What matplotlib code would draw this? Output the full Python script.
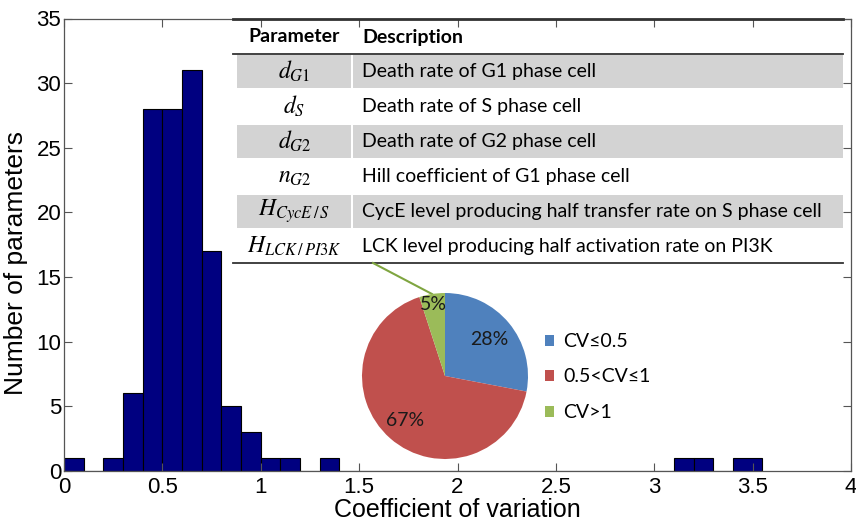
import numpy as np
import matplotlib.pyplot as plt
from matplotlib.patches import Rectangle

plt.rcParams['mathtext.fontset'] = 'stix'

# histogram of coefficient of variation (0.1 wide bins, last one wider)
bin_edges = np.round(np.append(np.arange(0, 3.45, 0.1), 3.55), 2)
counts = [1, 0, 1, 6, 28, 28, 31, 17, 5, 3, 1, 1, 0, 1,
          0, 0, 0, 0, 0, 0, 0, 0, 0, 0, 0, 0, 0, 0, 0, 0, 0,
          1, 1, 0, 1]

# pie of CV classes
pie_labels = ['CV\u22640.5', '0.5<CV\u22641', 'CV>1']
pie_pct = [28, 67, 5]
pie_colors = ['#4F81BD', '#C0504D', '#9BBB59']

# parameter table
params = [r'$d_{G1}$', r'$d_{S}$', r'$d_{G2}$', r'$n_{G2}$',
          r'$H_{CycE\,/\,S}$', r'$H_{LCK\,/\,PI3K}$']
descriptions = ['Death rate of G1 phase cell',
                'Death rate of S phase cell',
                'Death rate of G2 phase cell',
                'Hill coefficient of G1 phase cell',
                'CycE level producing half transfer rate on S phase cell',
                'LCK level producing half activation rate on PI3K']

W, H = 856, 521
fig = plt.figure(figsize=(W / 100, H / 100), dpi=100)

ax = fig.add_axes([64 / W, (H - 471) / H, (851 - 64) / W, (471 - 18.5) / H])
ax.hist(bin_edges[:-1], bins=bin_edges, weights=counts,
        color='#000080', edgecolor='black', linewidth=0.8)
ax.set_xlim(0, 4)
ax.set_ylim(0, 35)
ax.set_xticks(np.arange(0, 4.01, 0.5))
ax.set_xticklabels(['0', '0.5', '1', '1.5', '2', '2.5', '3', '3.5', '4'])
ax.set_yticks(np.arange(0, 36, 5))
ax.tick_params(direction='in', length=6, width=0.8, colors='#555555',
               labelcolor='black', labelsize=16, top=True, right=True)
ax.tick_params(axis='x', pad=4)
ax.tick_params(axis='y', pad=2)
for lab in ax.get_xticklabels() + ax.get_yticklabels():
    lab.set_family('Liberation Sans')
for s in ax.spines.values():
    s.set_color('#555555')
    s.set_linewidth(0.9)
ax.set_xlabel('Coefficient of variation', fontsize=18,
              family='Liberation Sans', labelpad=0)
ax.set_ylabel('Number of parameters', fontsize=19,
              family='Liberation Sans')
ax.yaxis.set_label_coords(-0.046, 0.46)

# overlay in pixel coordinates for the table
ov = fig.add_axes([0, 0, 1, 1])
ov.set_xlim(0, W)
ov.set_ylim(H, 0)
ov.axis('off')

tfont = ['Lato', 'DejaVu Sans']
x0, xsep, x1 = 237, 352, 843
row_top, row_h = 54, 35
for i, (p, d) in enumerate(zip(params, descriptions)):
    top = row_top + i * row_h
    if i % 2 == 0:
        ov.add_patch(Rectangle((x0, top + 1), xsep - x0 - 1, row_h - 2,
                               color='#D3D3D3', lw=0))
        ov.add_patch(Rectangle((xsep + 1, top + 1), x1 - xsep - 1, row_h - 2,
                               color='#D3D3D3', lw=0))
    yc = top + row_h / 2
    ov.text((x0 + xsep) / 2, yc, p, fontsize=17, ha='center', va='center')
    ov.text(xsep + 10, yc, d, fontsize=14, family=tfont, ha='left', va='center')

ov.text((x0 + xsep) / 2, 37, 'Parameter', fontsize=14, family=tfont,
        weight='bold', ha='center', va='center')
ov.text(xsep + 10, 37, 'Description', fontsize=14, family=tfont,
        weight='bold', ha='left', va='center')
ov.plot([233, x1], [19, 19], color='#333333', lw=2)
ov.plot([233, x1], [row_top, row_top], color='#333333', lw=1.3)
ov.plot([233, x1], [263, 263], color='#333333', lw=1.3)

# leader line from the small slice up to the table
ov.plot([432, 373], [294, 263], color='#7FA540', lw=1.5)

# pie inset
r = 83
cx, cy = 445, 376
axp = fig.add_axes([(cx - r) / W, (H - cy - r) / H, 2 * r / W, 2 * r / H])
wedges, _ = axp.pie(pie_pct, colors=pie_colors, startangle=90,
                    counterclock=False, radius=1.0,
                    wedgeprops=dict(linewidth=0))
axp.set_xlim(-1, 1)
axp.set_ylim(-1, 1)
label_r = [0.69, 0.72, 0.87]
for w, v, lr in zip(wedges, pie_pct, label_r):
    th = np.deg2rad((w.theta1 + w.theta2) / 2)
    axp.text(lr * np.cos(th), lr * np.sin(th), '%d%%' % v, fontsize=14,
             family=tfont, ha='center', va='center', color='#1a1a1a')

fig.legend(wedges, pie_labels, loc='center left',
           bbox_to_anchor=(527 / W, 1 - 377 / H), frameon=False,
           prop={'family': tfont, 'size': 14}, handlelength=0.5,
           handleheight=0.5, handletextpad=0.45, labelspacing=0.95)

fig.savefig('out.png', dpi=100)
